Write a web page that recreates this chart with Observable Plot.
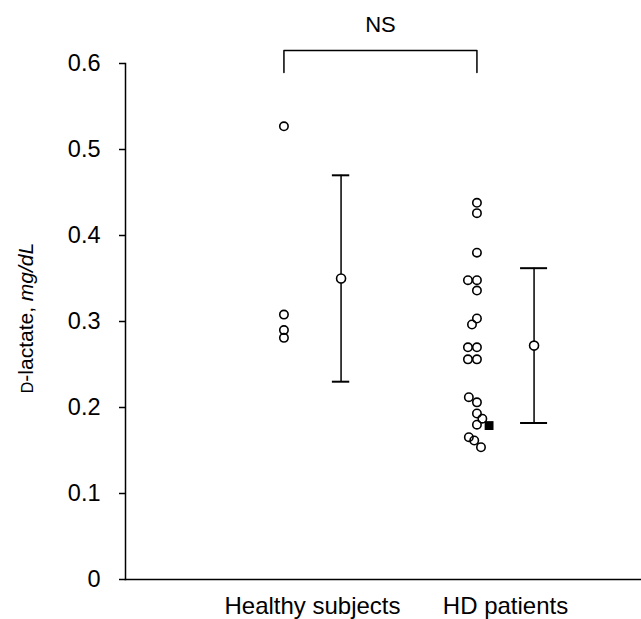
<!DOCTYPE html>
<html>
<head>
<meta charset="utf-8">
<script src="https://cdn.jsdelivr.net/npm/d3@7"></script>
<script src="https://cdn.jsdelivr.net/npm/@observablehq/plot@0.6"></script>
<style>
  html, body { margin: 0; padding: 0; background: #fff; }
  #chart { width: 641px; height: 619px; }
</style>
</head>
<body>
<div id="chart"></div>
<script>
// ---- data ----
const groups = ["Healthy subjects", "HD patients"];
const healthyValues = [0.527, 0.308, 0.290, 0.281];
const healthyJitter = [0, 0, 0, 0];
const hdValues = [0.438, 0.426, 0.380, 0.348, 0.348, 0.336, 0.3035, 0.2965, 0.270, 0.270,
                  0.256, 0.256, 0.212, 0.206, 0.193, 0.187, 0.180, 0.1655, 0.1616, 0.1538];
const hdJitter = [0, 0, 0, -2, 0, 0, 0, -1.1, -2, 0,
                  -2, 0, -1.8, 0, 0, 1.2, 0, -1.8, -0.6, 0.9];
const hdSquareValues = [0.179];
const hdSquareJitter = [2.7];
const meanValues = [0.350, 0.272];
const sdValues = [0.120, 0.090];
const yTicks = [0, 0.1, 0.2, 0.3, 0.4, 0.5, 0.6];
const bracketLabel = "NS";
const bracketY = [0.5895, 0.615];
const labelY = 0.6445;

// ---- layout / style constants ----
const POINT_OFFSET = -0.148;
const SUMMARY_OFFSET = 0.148;
const JITTER_STEP = 0.0233;
const capHalf = [0.045, 0.07];
const FONT = "'Liberation Sans', Arial, Helvetica, sans-serif";

const points = [
  ...healthyValues.map((v, i) => ({g: 0, x: 0 + POINT_OFFSET + healthyJitter[i] * JITTER_STEP, y: v})),
  ...hdValues.map((v, i) => ({g: 1, x: 1 + POINT_OFFSET + hdJitter[i] * JITTER_STEP, y: v}))
];
const squares = hdSquareValues.map((v, i) => ({x: 1 + POINT_OFFSET + hdSquareJitter[i] * JITTER_STEP, y: v}));
const summary = meanValues.map((m, i) => ({
  x: i + SUMMARY_OFFSET, mean: m, lo: m - sdValues[i], hi: m + sdValues[i], half: capHalf[i]
}));
const bracket = [
  {x: 0 + POINT_OFFSET, y: bracketY[0]},
  {x: 0 + POINT_OFFSET, y: bracketY[1]},
  {x: 1 + POINT_OFFSET, y: bracketY[1]},
  {x: 1 + POINT_OFFSET, y: bracketY[0]}
];

const chart = Plot.plot({
  width: 641,
  height: 619,
  marginLeft: 125,
  marginRight: 0,
  marginTop: 63,
  marginBottom: 40,
  x: {domain: [(125 - 312) / 193, (641 - 312) / 193], axis: null},
  y: {domain: [0, 0.6], axis: null},
  style: {fontFamily: FONT, background: "#fff", color: "#000", overflow: "visible"},
  marks: [
    Plot.frame({anchor: "left", stroke: "#000", strokeWidth: 1.5}),
    Plot.frame({anchor: "bottom", stroke: "#000", strokeWidth: 1.5}),
    Plot.axisY({ticks: yTicks, tickSize: 6, tickPadding: 19, fontSize: 23.5,
                tickFormat: d => d === 0 ? "0" : d.toFixed(1), label: null, strokeWidth: 1.5}),
    Plot.axisX({ticks: [0, 1], tickFormat: i => groups[i], tickSize: 0, tickPadding: 17,
                fontSize: 24, label: null}),
    Plot.line(bracket, {x: "x", y: "y", stroke: "#000", strokeWidth: 1.5}),
    Plot.text([bracketLabel], {x: (POINT_OFFSET + 1 + POINT_OFFSET) / 2, y: labelY,
                text: d => d, fontSize: 22, fill: "#000"}),
    Plot.ruleX(summary, {x: "x", y1: "lo", y2: "hi", stroke: "#000", strokeWidth: 1.5}),
    Plot.ruleY(summary, {y: "hi", x1: d => d.x - d.half, x2: d => d.x + d.half, stroke: "#000", strokeWidth: 2}),
    Plot.ruleY(summary, {y: "lo", x1: d => d.x - d.half, x2: d => d.x + d.half, stroke: "#000", strokeWidth: 2}),
    Plot.dot(summary, {x: "x", y: "mean", r: 4.5, fill: "#fff", stroke: "#000", strokeWidth: 1.6}),
    Plot.dot(points, {x: "x", y: "y", r: 4.2, fill: "none", stroke: "#000", strokeWidth: 1.6}),
    Plot.dot(squares, {x: "x", y: "y", r: 5, symbol: "square", fill: "#000", stroke: "none"})
  ]
});

// rotated y-axis title with small-caps D and italic unit
const svg = d3.select(chart);
const t = svg.append("text")
  .attr("transform", "translate(33,318) rotate(-90)")
  .attr("text-anchor", "middle")
  .attr("font-family", FONT)
  .attr("font-size", 21)
  .attr("fill", "#000");
t.append("tspan").attr("font-size", 16).text("D");
t.append("tspan").text("-lactate, ");
t.append("tspan").attr("font-style", "italic").text("mg/dL");

document.getElementById("chart").appendChild(chart);
</script>
</body>
</html>
